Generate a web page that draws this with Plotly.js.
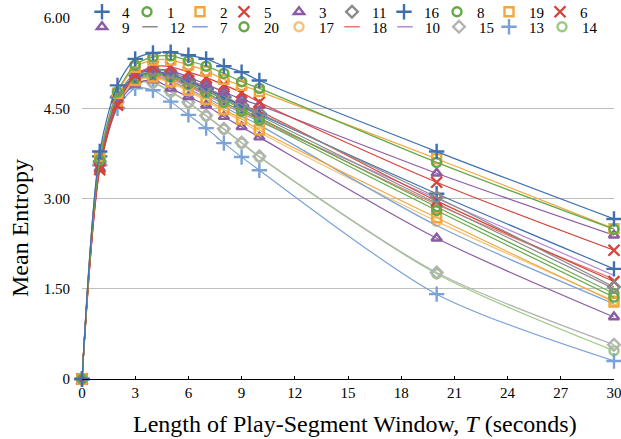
<!DOCTYPE html>
<html>
<head>
<meta charset="utf-8">
<script src="https://cdn.plot.ly/plotly-3.0.1.min.js"></script>
<style>html,body{margin:0;padding:0;background:#fff;}#chart{width:621px;height:439px;}</style>
</head>
<body>
<div id="chart"></div>
<script>
// Window length T (seconds)
var windowT = [0, 1, 2, 3, 4, 5, 6, 7, 8, 9, 10, 20, 30];

// Mean entropy per series
var s4  = [0, 3.78, 4.88, 5.32, 5.42, 5.43, 5.38, 5.32, 5.20, 5.10, 4.96, 3.78, 2.66];
var s1  = [0, 3.64, 4.77, 5.22, 5.35, 5.37, 5.29, 5.20, 5.08, 4.94, 4.83, 3.60, 2.49];
var s2  = [0, 3.70, 4.75, 5.18, 5.30, 5.30, 5.22, 5.12, 4.98, 4.88, 4.78, 3.66, 2.50];
var s5  = [0, 3.48, 4.55, 5.05, 5.19, 5.19, 5.10, 5.01, 4.89, 4.76, 4.60, 3.27, 2.14];
var s3  = [0, 3.62, 4.65, 5.05, 5.15, 5.12, 5.02, 4.90, 4.77, 4.65, 4.55, 3.42, 2.39];
var s11 = [0, 3.62, 4.70, 5.08, 5.14, 5.10, 4.98, 4.85, 4.70, 4.56, 4.42, 3.02, 1.53];
var s16 = [0, 3.70, 4.68, 5.05, 5.12, 5.06, 4.95, 4.82, 4.68, 4.54, 4.40, 3.08, 1.83];
var s8  = [0, 3.60, 4.65, 5.00, 5.08, 5.02, 4.90, 4.76, 4.60, 4.45, 4.30, 2.80, 1.36];
var s19 = [0, 3.66, 4.62, 4.96, 5.02, 4.94, 4.80, 4.65, 4.48, 4.32, 4.14, 2.68, 1.28];
var s6  = [0, 3.52, 4.60, 5.00, 5.10, 5.06, 4.96, 4.83, 4.70, 4.55, 4.45, 2.96, 1.62];
var s9  = [0, 3.50, 4.55, 4.90, 4.97, 4.83, 4.69, 4.55, 4.36, 4.19, 4.02, 2.34, 1.03];
var s12 = [0, 3.60, 4.62, 5.00, 5.08, 5.02, 4.92, 4.80, 4.66, 4.52, 4.38, 2.92, 1.50];
var s7  = [0, 3.62, 4.62, 4.98, 5.03, 4.95, 4.82, 4.68, 4.52, 4.37, 4.22, 2.55, 1.25];
var s20 = [0, 3.62, 4.66, 5.02, 5.10, 5.04, 4.92, 4.79, 4.64, 4.49, 4.34, 2.86, 1.42];
var s17 = [0, 3.60, 4.60, 4.95, 5.00, 4.92, 4.78, 4.62, 4.45, 4.28, 4.10, 2.62, 1.30];
var s18 = [0, 3.55, 4.58, 4.98, 5.06, 5.00, 4.88, 4.74, 4.60, 4.46, 4.32, 2.90, 1.66];
var s10 = [0, 3.55, 4.58, 4.96, 5.04, 4.98, 4.86, 4.72, 4.57, 4.42, 4.28, 3.00, 1.72];
var s15 = [0, 3.58, 4.60, 4.93, 4.93, 4.78, 4.60, 4.38, 4.16, 3.93, 3.70, 1.77, 0.57];
var s13 = [0, 3.55, 4.50, 4.83, 4.80, 4.61, 4.39, 4.17, 3.92, 3.69, 3.47, 1.41, 0.30];
var s14 = [0, 3.58, 4.60, 4.92, 4.92, 4.77, 4.59, 4.37, 4.15, 3.92, 3.69, 1.75, 0.47];

// Legend / series names in legend order
var row1Names = ["4", "1", "2", "5", "3", "11", "16", "8", "19", "6"];
var row2Names = ["9", "12", "7", "20", "17", "18", "10", "15", "13", "14"];

// Axis ticks
var xTicks = [0, 3, 6, 9, 12, 15, 18, 21, 24, 27, 30];
var yTickVals = [0, 1.5, 3, 4.5, 6];
var yTickText = ["0", "1.50", "3.00", "4.50", "6.00"];

var dataByName = {
  "4": s4, "1": s1, "2": s2, "5": s5, "3": s3, "11": s11, "16": s16, "8": s8, "19": s19, "6": s6,
  "9": s9, "12": s12, "7": s7, "20": s20, "17": s17, "18": s18, "10": s10, "15": s15, "13": s13, "14": s14
};

var BLUE = "#3f6fae", GREEN = "#66a84a", ORANGE = "#f2a73c", RED = "#d7423b",
    PURPLE = "#8c5aa3", GRAY = "#8a8a8a", LBLUE = "#7aa2d6", LGREEN = "#9acb82",
    LORANGE = "#f6c27a", PINK = "#e8766c", LPURPLE = "#b68ad0", LGRAY = "#b3b3b3";

var styleByName = {
  "4":  {c: BLUE,    s: "cross-thin-open"},
  "1":  {c: GREEN,   s: "circle-open"},
  "2":  {c: ORANGE,  s: "square-open"},
  "5":  {c: RED,     s: "x-thin-open"},
  "3":  {c: PURPLE,  s: "triangle-up-open"},
  "11": {c: GRAY,    s: "diamond-open"},
  "16": {c: BLUE,    s: "cross-thin-open"},
  "8":  {c: GREEN,   s: "circle-open"},
  "19": {c: ORANGE,  s: "square-open"},
  "6":  {c: RED,     s: "x-thin-open"},
  "9":  {c: PURPLE,  s: "triangle-up-open"},
  "12": {c: GRAY,    s: null},
  "7":  {c: LBLUE,   s: null},
  "20": {c: GREEN,   s: "circle-open"},
  "17": {c: LORANGE, s: "circle-open"},
  "18": {c: PINK,    s: null},
  "10": {c: LPURPLE, s: null},
  "15": {c: LGRAY,   s: "diamond-open"},
  "13": {c: LBLUE,   s: "cross-thin-open"},
  "14": {c: LGREEN,  s: "circle-open"}
};

// legend marker centres (px) for each row (layout only)
var row1MarkerPx = [100, 145, 198, 242, 297, 350, 402, 455, 507, 558];
var row2MarkerPx = [100, 148, 198, 242, 297, 350, 403, 457, 507, 560];

function markerSize(sym) { return (sym.indexOf("cross") === 0 || sym.indexOf("x") === 0) ? 11 : 9; }

var FONT = "Liberation Serif, Times New Roman, serif";
var W = 621, H = 439;
var traces = [];
var allNames = row1Names.concat(row2Names);
for (var i = allNames.length - 1; i >= 0; i--) {
  var n = allNames[i], st = styleByName[n];
  var tr = {
    x: windowT, y: dataByName[n], name: n, type: "scatter",
    mode: st.s ? "lines+markers" : "lines",
    line: {color: st.c, width: 1.2, shape: "spline", smoothing: 0.8},
    showlegend: false, cliponaxis: false, hoverinfo: "skip"
  };
  if (st.s) {
    tr.marker = {symbol: st.s, size: markerSize(st.s), color: st.c, line: {color: st.c, width: 2.4}};
  }
  traces.push(tr);
}

var layout = {
  width: W, height: H,
  margin: {l: 82, r: 7, t: 18, b: 60, autoexpand: false},
  paper_bgcolor: "#fff", plot_bgcolor: "#fff",
  font: {family: FONT, size: 15, color: "#000"},
  xaxis: {
    range: [-0.001, 30.001], tickvals: xTicks, ticks: "inside", ticklen: 3, tickcolor: "#000",
    ticklabeloverflow: "allow",
    showline: true, linecolor: "#000", linewidth: 1.3, showgrid: false, zeroline: false,
    tickfont: {family: FONT, size: 15, color: "#000"}
  },
  yaxis: {
    range: [0, 6], tickvals: yTickVals, ticktext: yTickText, ticks: "", showline: false,
    ticklabelstandoff: 11,
    showgrid: true, gridcolor: "#bdbdbd", gridwidth: 1.2, zeroline: false,
    tickfont: {family: FONT, size: 15, color: "#000"}
  },
  annotations: [
    {text: "Length of Play-Segment Window, <i>T</i> (seconds)", xref: "paper", yref: "paper",
     x: (355 - 82) / 532, y: -(424 - 379) / 361, xanchor: "center", yanchor: "middle",
     showarrow: false, font: {family: FONT, size: 24, color: "#000"}},
    {text: "Mean Entropy", xref: "paper", yref: "paper", textangle: -90,
     x: -(82 - 20) / 532, y: (379 - 228) / 361, xanchor: "center", yanchor: "middle",
     showarrow: false, font: {family: FONT, size: 24, color: "#000"}}
  ],
  showlegend: true
};

// one single-entry legend per series so that each sits where the reference shows it
function addLegendEntry(n, idx, markerPx, rowY) {
  var st = styleByName[n];
  var key = idx === 0 ? "legend" : "legend" + (idx + 1);
  var t = {x: [null], y: [null], name: n, type: "scatter", mode: "markers", legend: key, showlegend: true};
  if (st.s) {
    t.marker = {symbol: st.s, size: markerSize(st.s), color: st.c, line: {color: st.c, width: 2.4}};
  } else {
    t.marker = {symbol: "line-ew", size: 11, color: st.c, line: {color: st.c, width: 1.3}};
  }
  traces.push(t);
  layout[key] = {
    orientation: "h", bgcolor: "rgba(0,0,0,0)", borderwidth: 0,
    font: {family: FONT, size: 15, color: "#000"},
    xref: "container", yref: "container", xanchor: "left", yanchor: "middle",
    x: (markerPx - 18) / W, y: 1 - rowY / H
  };
}
row1Names.forEach(function (n, k) { addLegendEntry(n, k, row1MarkerPx[k], 12); });
row2Names.forEach(function (n, k) { addLegendEntry(n, k + 10, row2MarkerPx[k], 27); });

Plotly.newPlot("chart", traces, layout, {displayModeBar: false, staticPlot: true});
</script>
</body>
</html>
